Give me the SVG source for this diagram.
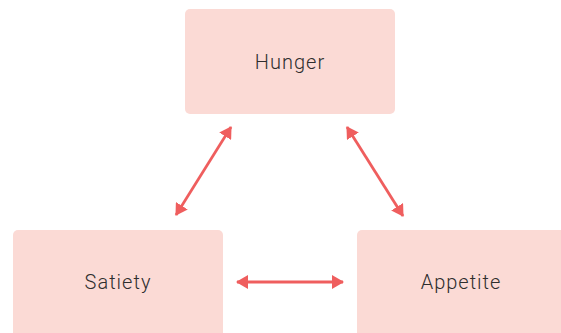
<svg xmlns="http://www.w3.org/2000/svg" width="561" height="333" viewBox="0 0 561 333">
  <defs>
    <style>
      .box { fill: #FBDAD5; }
      .label { font-family: Roboto, "Liberation Sans", sans-serif; font-size: 20px; font-weight: 300; fill: #2E2E2E; text-anchor: middle; letter-spacing: 1px; }
      .link { stroke: #EF5E5E; stroke-width: 2.8; fill: none; marker-start: url(#head); marker-end: url(#head); }
    </style>
    <marker id="head" viewBox="0 0 12 14" refX="11" refY="7" markerWidth="12" markerHeight="14" orient="auto-start-reverse" markerUnits="userSpaceOnUse">
      <path d="M0,0 L12,7 L0,14 Z" fill="#EF5E5E"/>
    </marker>
  </defs>
  <rect width="561" height="333" fill="#FFFFFF"/>

  <g id="hunger">
    <rect class="box" x="185" y="9" width="210" height="105" rx="5"/>
    <text class="label" x="290" y="69">Hunger</text>
  </g>

  <g id="satiety">
    <rect class="box" x="13" y="230" width="210" height="108" rx="5"/>
    <text class="label" x="118" y="289">Satiety</text>
  </g>

  <g id="appetite">
    <rect class="box" x="357" y="230" width="210" height="108" rx="5"/>
    <text class="label" x="461" y="289">Appetite</text>
  </g>

  <g id="connectors">
    <line class="link" x1="176" y1="215" x2="231" y2="127"/>
    <line class="link" x1="347" y1="127" x2="403" y2="216"/>
    <line class="link" x1="237" y1="282" x2="343" y2="282"/>
  </g>
</svg>
